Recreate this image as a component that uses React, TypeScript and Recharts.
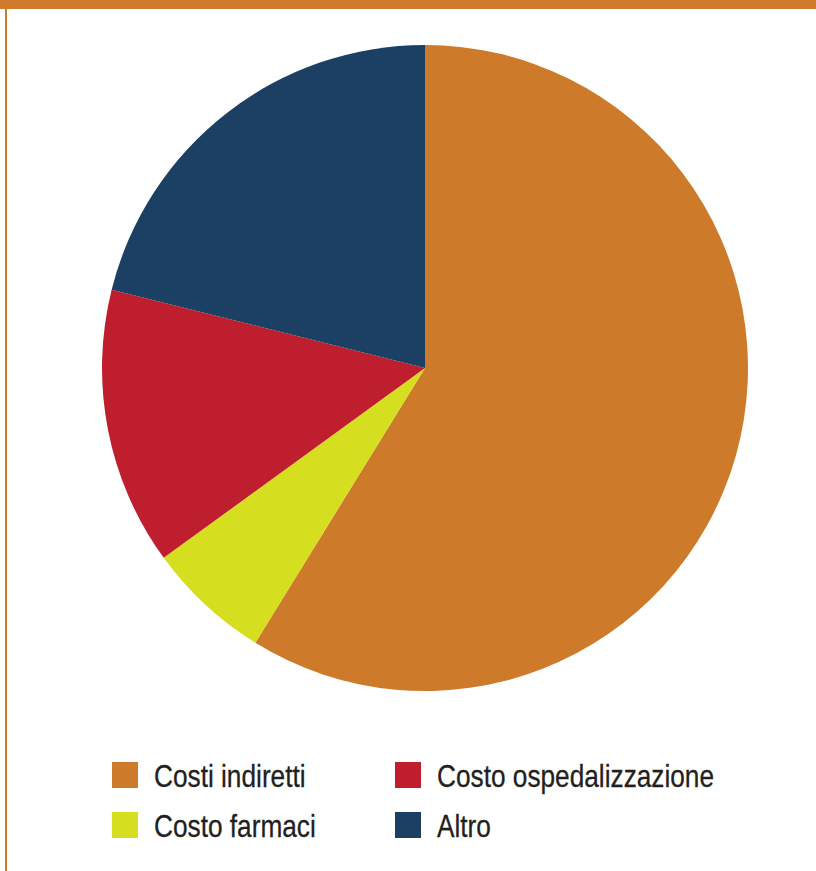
import React from "react";
import { PieChart, Pie, Cell, Legend } from "recharts";

const categories = ["Costi indiretti", "Costo farmaci", "Costo ospedalizzazione", "Altro"];
const shares = [58.8, 6.2, 13.9, 21.1];
const colors = ["#CE7A2B", "#D6DE20", "#BE1E2D", "#1C4063"];

const data = categories.map((name, i) => ({ name, value: shares[i] }));

const FRAME = "#D07A2C";

const renderLegend = (props: any) => {
  const payload = ((props.payload || []) as any[])
    .slice()
    .sort((a: any, b: any) => categories.indexOf(a.value) - categories.indexOf(b.value));
  return (
    <svg width={704} height={100} style={{ display: "block", overflow: "visible" }}>
      {payload.map((entry: any, i: number) => {
        const col = Math.floor(i / 2);
        const row = i % 2;
        const x = col * 283;
        const y = row * 50;
        return (
          <g key={entry.value}>
            <rect x={x} y={y} width={26} height={26} fill={entry.color} />
            <g transform={`translate(${x + 42}, ${y + 25}) scale(0.82, 1)`}>
              <text
                x={0}
                y={0}
                fontFamily="'Liberation Sans', Arial, sans-serif"
                fontSize={32}
                fill="#231F20"
                stroke="#231F20"
                strokeWidth={0.3}
              >
                {entry.value}
              </text>
            </g>
          </g>
        );
      })}
    </svg>
  );
};

export default function App() {
  return (
    <div style={{ position: "absolute", left: 0, top: 0, width: 816, height: 871, background: "#fff", overflow: "hidden" }}>
      <div style={{ position: "absolute", left: 0, top: 0, width: 816, height: 9, background: FRAME }} />
      <div style={{ position: "absolute", left: 5, top: 0, width: 2, height: 871, background: FRAME }} />
      <div style={{ position: "absolute", left: 0, top: 0 }}>
        <PieChart width={816} height={871} margin={{ top: 0, right: 0, bottom: 0, left: 0 }}>
          <Pie
            data={data}
            dataKey="value"
            nameKey="name"
            cx={425}
            cy={368}
            outerRadius={323}
            startAngle={90}
            endAngle={-270}
            stroke="none"
            isAnimationActive={false}
          >
            {data.map((d, i) => (
              <Cell key={d.name} fill={colors[i]} />
            ))}
          </Pie>
          <Legend
            content={renderLegend}
            wrapperStyle={{ position: "absolute", left: 112, top: 762, width: 704, height: 100 }}
          />
        </PieChart>
      </div>
    </div>
  );
}
